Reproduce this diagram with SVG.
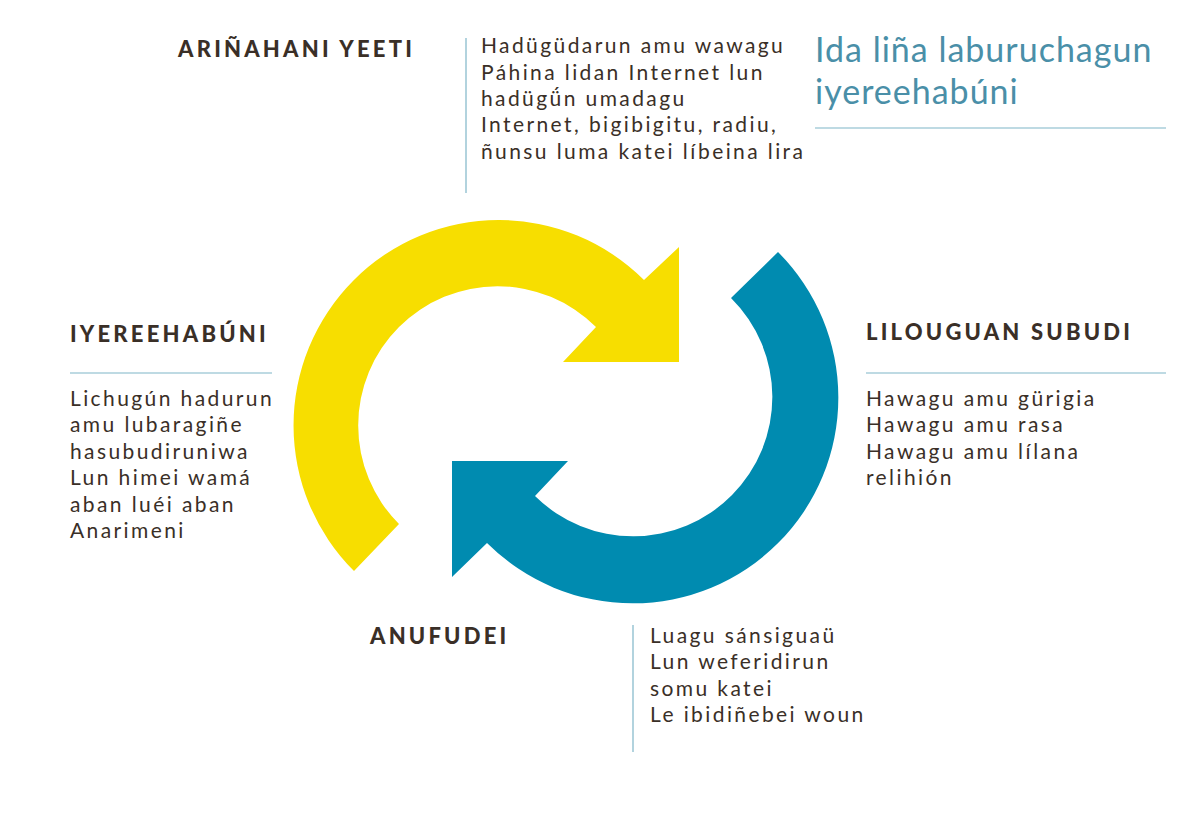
<svg xmlns="http://www.w3.org/2000/svg" width="1200" height="821" viewBox="0 0 1200 821">
<style>
.h{font-family:"Lato","Noto Sans",sans-serif;font-weight:900;font-size:22px;letter-spacing:3.2px;fill:#3a2f27}
.t{font-family:"Lato","Noto Sans",sans-serif;font-size:21px;letter-spacing:2.4px;fill:#3a2f27}
.ttl{font-family:"Lato","Noto Sans",sans-serif;font-size:34px;letter-spacing:1px;fill:#4a8fa8}
.ln{stroke:#7fb6c8;stroke-width:1.2;fill:none}
</style>
<rect width="1200" height="821" fill="#fff"/>
<g id="connectors">
<path d="M354,571 A201 201 0 1 1 644,280 L679,247 L679,362 L563,362 L596,327 A137 137 0 1 0 399,524 Z" fill="#f7de00"/>
<path d="M778,252 A205 205 0 1 1 487,543 L452,577 L452,461 L568,461 L535,496 A138 138 0 1 0 731,298 Z" fill="#008bb0"/>
</g>
<g id="title">
<text class="ttl" x="815" y="62">Ida liña laburuchagun</text>
<text class="ttl" x="815" y="104">iyereehabúni</text>
<line class="ln" x1="815" y1="128" x2="1166" y2="128"/>
</g>
<g id="node-arinahani">
<text class="h" x="178" y="57">ARIÑAHANI YEETI</text>
<line class="ln" x1="466" y1="38" x2="466" y2="193"/>
<text class="t" x="481" y="53">Hadügüdarun amu wawagu</text>
<text class="t" x="481" y="80">Páhina lidan Internet lun</text>
<text class="t" x="481" y="106">hadügǘn umadagu</text>
<text class="t" x="481" y="132">Internet, bigibigitu, radiu,</text>
<text class="t" x="481" y="159">ñunsu luma katei líbeina lira</text>
</g>
<g id="node-iyereehabuni">
<text class="h" x="70" y="342">IYEREEHABÚNI</text>
<line class="ln" x1="70" y1="373" x2="272" y2="373"/>
<text class="t" x="70" y="406">Lichugún hadurun</text>
<text class="t" x="70" y="432">amu lubaragiñe</text>
<text class="t" x="70" y="459">hasubudiruniwa</text>
<text class="t" x="70" y="485">Lun himei wamá</text>
<text class="t" x="70" y="512">aban luéi aban</text>
<text class="t" x="70" y="538">Anarimeni</text>
</g>
<g id="node-lilouguan">
<text class="h" x="866" y="340">LILOUGUAN SUBUDI</text>
<line class="ln" x1="866" y1="373" x2="1166" y2="373"/>
<text class="t" x="866" y="406">Hawagu amu gürigia</text>
<text class="t" x="866" y="432">Hawagu amu rasa</text>
<text class="t" x="866" y="459">Hawagu amu lílana</text>
<text class="t" x="866" y="485">relihión</text>
</g>
<g id="node-anufudei">
<text class="h" x="370" y="644">ANUFUDEI</text>
<line class="ln" x1="633" y1="625" x2="633" y2="752"/>
<text class="t" x="650" y="643">Luagu sánsiguaü</text>
<text class="t" x="650" y="669">Lun weferidirun</text>
<text class="t" x="650" y="696">somu katei</text>
<text class="t" x="650" y="722">Le ibidiñebei woun</text>
</g>
</svg>
